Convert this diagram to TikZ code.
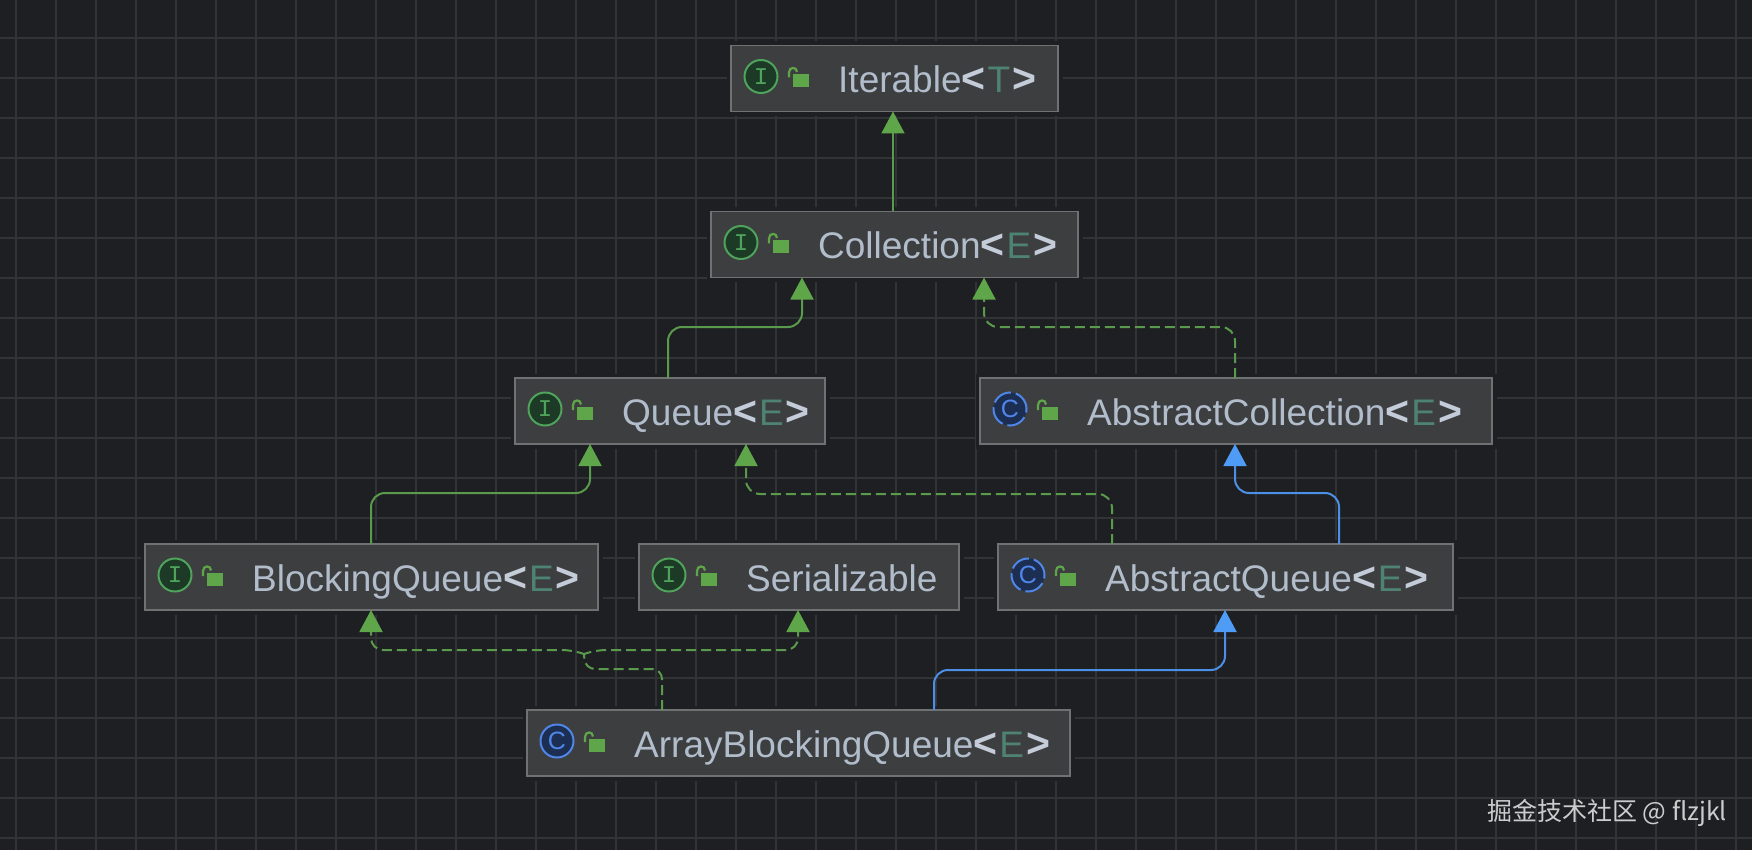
\documentclass[tikz,border=0pt]{standalone}
\usepackage{fontspec}
\setmainfont{Liberation Sans}
\setmonofont{Liberation Mono}
\newfontfamily\cjkfont{Noto Sans CJK SC}
\usetikzlibrary{arrows.meta}

\definecolor{canvasbg}{HTML}{1E1F22}
\definecolor{gridcol}{HTML}{323335}
\definecolor{boxfill}{HTML}{3D3E3F}
\definecolor{boxline}{HTML}{707172}
\definecolor{namecol}{HTML}{B2BDCC}
\definecolor{bracketcol}{HTML}{C3CCD8}
\definecolor{paramcol}{HTML}{4E8272}
\definecolor{greenline}{HTML}{5A9A4C}
\definecolor{greentip}{HTML}{5FA64B}
\definecolor{blueline}{HTML}{4C8FE6}
\definecolor{bluetip}{HTML}{4F9CF7}
\definecolor{ifacering}{HTML}{4FA35C}
\definecolor{ifacefill}{HTML}{1C3A25}
\definecolor{classring}{HTML}{4F86E8}
\definecolor{classfill}{HTML}{1C2E52}
\definecolor{markcol}{HTML}{CCCCCC}

\newcommand{\bracketed}[1]{\textbf{\textcolor{bracketcol}{\fontsize{41}{41}\selectfont #1}}}
\newcommand{\gen}[1]{\bracketed{<}\kern2pt\textcolor{paramcol}{#1}\kern2pt\bracketed{>}}

\begin{document}
\begin{tikzpicture}[x=1pt, y=-1pt]
	
	% Define custom styles
	\tikzstyle{classbox} = [rectangle, draw=boxline, fill=boxfill, line width=1.8pt, minimum height=66pt, inner sep=0pt, outer sep=0pt, anchor=north west, preaction={draw=canvasbg, line width=9pt}]
	\tikzstyle{classname} = [anchor=base west, inner sep=0pt, text=namecol, font=\fontsize{37}{37}\selectfont]
	\tikzstyle{ring} = [circle, minimum size=33pt, inner sep=0pt, line width=2pt]
	\tikzstyle{ifacering} = [ring, draw=ifacering, fill=ifacefill, text=ifacering, font=\ttfamily\fontsize{24}{24}\selectfont]
	\tikzstyle{classring} = [ring, draw=classring, fill=classfill, text=classring, font=\fontsize{25}{25}\selectfont]
	\tikzstyle{abstractring} = [classring, dash pattern=on 20pt off 5pt]
	\tikzstyle{extends} = [draw=greenline, line width=2pt, rounded corners=14pt, -{Triangle[width=23pt, length=22pt, color=greentip]}]
	\tikzstyle{implements} = [extends, dash pattern=on 10pt off 5pt]
	\tikzstyle{subclass} = [extends, draw=blueline, -{Triangle[width=23pt, length=22pt, color=bluetip]}]
	
	\tikzset{
		lockicon/.pic={
			\fill[greentip] (62,-4.5) rectangle (77.5,8.5);
			\draw[greentip, line width=2.2pt] (58,-1) -- (58,-6) .. controls (58,-12) and (66,-12) .. (66,-6.5);
		},
		ifaceicons/.pic={
			\node[ifacering] (ring) at (30,-2) {I};
			\pic {lockicon};
		},
		classicons/.pic={
			\node[classring] (ring) at (30,-2) {C};
			\pic {lockicon};
		},
		abstracticons/.pic={
			\node[abstractring] (ring) at (30,-2) {C};
			\pic {lockicon};
		}
	}
	
	% Canvas and grid
	\useasboundingbox (0,0) rectangle (1752,850);
	\fill[canvasbg] (0,0) rectangle (1752,850);
	\foreach \gx in {0,...,43} {
		\draw[gridcol, line width=2pt] (15.6+40*\gx,0) -- (15.6+40*\gx,850);
	}
	\foreach \gy in {1,...,21} {
		\draw[gridcol, line width=2pt] (0,-2.3+40*\gy) -- (1752,-2.3+40*\gy);
	}
	
	% Boxes
	\node[classbox, minimum width=327pt] (iterable) at (731,45.5) {};
	\node[classbox, minimum width=367pt] (collection) at (711,211.5) {};
	\node[classbox, minimum width=310pt] (queue) at (515,378) {};
	\node[classbox, minimum width=512pt] (abstractcollection) at (980,378) {};
	\node[classbox, minimum width=453pt] (blockingqueue) at (145,544) {};
	\node[classbox, minimum width=320pt] (serializable) at (639,544) {};
	\node[classbox, minimum width=455pt] (abstractqueue) at (998,544) {};
	\node[classbox, minimum width=543pt] (arrayblockingqueue) at (527,710) {};
	
	% Icons
	\pic (iterableicons) at (iterable.west) {ifaceicons};
	\pic (collectionicons) at (collection.west) {ifaceicons};
	\pic (queueicons) at (queue.west) {ifaceicons};
	\pic (abstractcollectionicons) at (abstractcollection.west) {abstracticons};
	\pic (blockingqueueicons) at (blockingqueue.west) {ifaceicons};
	\pic (serializableicons) at (serializable.west) {ifaceicons};
	\pic (abstractqueueicons) at (abstractqueue.west) {abstracticons};
	\pic (arrayblockingqueueicons) at (arrayblockingqueue.west) {classicons};
	
	% Names
	\node[classname] (iterablename) at ([xshift=107pt, yshift=-14pt]iterable.west) {Iterable\gen{T}};
	\node[classname] (collectionname) at ([xshift=107pt, yshift=-14pt]collection.west) {Collection\gen{E}};
	\node[classname] (queuename) at ([xshift=107pt, yshift=-14pt]queue.west) {Queue\gen{E}};
	\node[classname] (abstractcollectionname) at ([xshift=107pt, yshift=-14pt]abstractcollection.west) {AbstractCollection\gen{E}};
	\node[classname] (blockingqueuename) at ([xshift=107pt, yshift=-14pt]blockingqueue.west) {BlockingQueue\gen{E}};
	\node[classname] (serializablename) at ([xshift=107pt, yshift=-14pt]serializable.west) {Serializable};
	\node[classname] (abstractqueuename) at ([xshift=107pt, yshift=-14pt]abstractqueue.west) {AbstractQueue\gen{E}};
	\node[classname] (arrayblockingqueuename) at ([xshift=107pt, yshift=-14pt]arrayblockingqueue.west) {ArrayBlockingQueue\gen{E}};
	
	% Arrows
	\draw[extends] ([xshift=182pt]collection.north west) -- ([xshift=162pt]iterable.south west);
	\draw[extends] ([xshift=153pt]queue.north west) -- ++(0,-51) -| ([xshift=91pt]collection.south west);
	\draw[implements] ([xshift=255pt]abstractcollection.north west) -- ++(0,-51) -| ([xshift=273pt]collection.south west);
	\draw[extends] ([xshift=226pt]blockingqueue.north west) -- ++(0,-51) -| ([xshift=75pt]queue.south west);
	\draw[implements] ([xshift=114pt]abstractqueue.north west) -- ++(0,-50) -| ([xshift=231pt]queue.south west);
	\draw[subclass] ([xshift=341pt]abstractqueue.north west) -- ++(0,-51) -| ([xshift=255pt]abstractcollection.south west);
	\draw[subclass] ([xshift=407pt]arrayblockingqueue.north west) -- ++(0,-40) -| ([xshift=227pt]abstractqueue.south west);
	
	% Forked arrows from the bottom box
	\coordinate (forkbase) at (585,669);
	\coordinate (fork) at (584,654);
	\draw[implements, -, rounded corners=10pt] ([xshift=135pt]arrayblockingqueue.north west) |- (forkbase) -- (fork);
	\draw[implements, rounded corners=12pt] (fork) -- ++(-10,-4) -| ([xshift=226pt]blockingqueue.south west);
	\draw[implements, rounded corners=12pt] (fork) -- ++(10,-4) -| ([xshift=159pt]serializable.south west);
	
	% Watermark
	\node[anchor=base west, inner sep=0pt, text=markcol, font=\cjkfont\fontsize{25}{25}\selectfont] (watermark) at (1487,820) {掘金技术社区 @ flzjkl};
	
\end{tikzpicture}
\end{document}
